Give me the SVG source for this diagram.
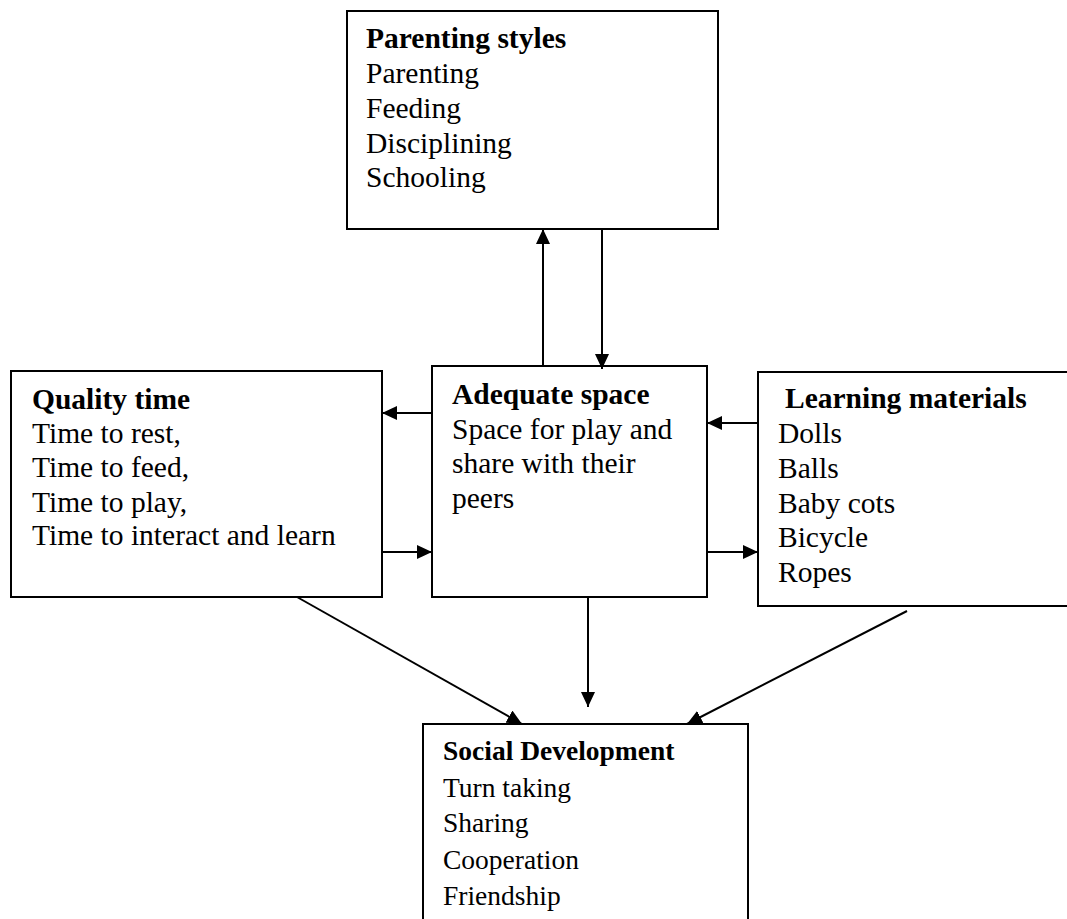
<svg xmlns="http://www.w3.org/2000/svg" width="1067" height="919" viewBox="0 0 1067 919">
<style>
.box{fill:#fff;stroke:#000;stroke-width:2}
.t{font-family:"Liberation Serif","Times New Roman",serif;font-size:29.5px;fill:#000}
.h{font-weight:bold}
.s{font-size:27.5px}
.c{stroke:#000;stroke-width:2;fill:none;marker-end:url(#ah)}
</style>
<defs>
<marker id="ah" viewBox="0 0 15 14" refX="15" refY="7" markerWidth="15" markerHeight="14" markerUnits="userSpaceOnUse" orient="auto">
<path d="M0,0 L15,7 L0,14 Z" fill="#000"/>
</marker>
</defs>
<rect width="1067" height="919" fill="#fff"/>
<g id="parenting">
<rect class="box" x="347" y="11" width="371" height="218"/>
<text class="t h" x="366" y="48">Parenting styles</text>
<text class="t" x="366" y="83">Parenting</text>
<text class="t" x="366" y="118">Feeding</text>
<text class="t" x="366" y="153">Disciplining</text>
<text class="t" x="366" y="187">Schooling</text>
</g>
<g id="quality">
<rect class="box" x="11" y="371" width="371" height="226"/>
<text class="t h" x="32" y="409">Quality time</text>
<text class="t" x="32" y="443">Time to rest,</text>
<text class="t" x="32" y="477">Time to feed,</text>
<text class="t" x="32" y="512">Time to play,</text>
<text class="t" x="32" y="545">Time to interact and learn</text>
</g>
<g id="space">
<rect class="box" x="432" y="366" width="275" height="231"/>
<text class="t h" x="452" y="404">Adequate space</text>
<text class="t" x="452" y="439">Space for play and</text>
<text class="t" x="452" y="473">share with their</text>
<text class="t" x="452" y="508">peers</text>
</g>
<g id="learning">
<rect class="box" x="758" y="372" width="320" height="234"/>
<text class="t h" x="785" y="408">Learning materials</text>
<text class="t" x="778" y="443">Dolls</text>
<text class="t" x="778" y="478">Balls</text>
<text class="t" x="778" y="513">Baby cots</text>
<text class="t" x="778" y="547">Bicycle</text>
<text class="t" x="778" y="582">Ropes</text>
</g>
<g id="social">
<rect class="box" x="423" y="724" width="325" height="210"/>
<text class="t s h" x="443" y="760">Social Development</text>
<text class="t s" x="443" y="797">Turn taking</text>
<text class="t s" x="443" y="832">Sharing</text>
<text class="t s" x="443" y="869">Cooperation</text>
<text class="t s" x="443" y="905">Friendship</text>
</g>
<g id="connectors">
<line class="c" x1="543" y1="366" x2="543" y2="229"/>
<line class="c" x1="602" y1="229" x2="602" y2="369"/>
<line class="c" x1="432" y1="413" x2="382" y2="413"/>
<line class="c" x1="382" y1="552" x2="432" y2="552"/>
<line class="c" x1="758" y1="423" x2="707" y2="423"/>
<line class="c" x1="707" y1="552" x2="758" y2="552"/>
<line class="c" x1="588" y1="597" x2="588" y2="707"/>
<line class="c" x1="297" y1="597" x2="522" y2="724"/>
<line class="c" x1="907" y1="611" x2="687" y2="724"/>
</g>
</svg>
